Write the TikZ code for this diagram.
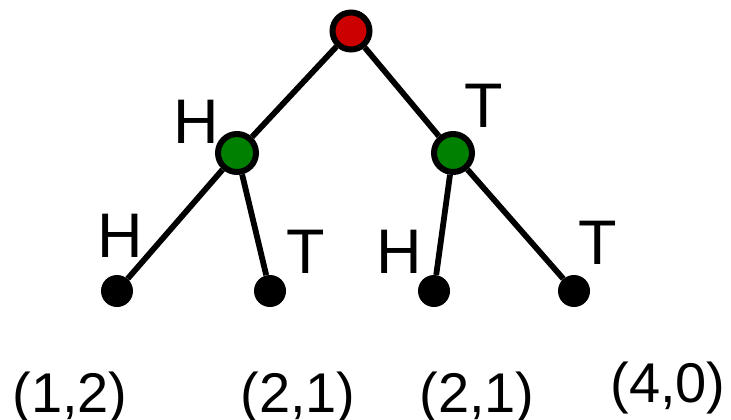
\documentclass[tikz,border=0pt]{standalone}
\usepackage{fontspec}
\setmainfont{Liberation Sans}
\begin{document}
\begin{tikzpicture}[x=1pt,y=-1pt,
  rootnode/.style={circle,draw=black,line width=6pt,fill={rgb,255:red,204;green,0;blue,0},minimum size=37pt,inner sep=0pt},
  midnode/.style={circle,draw=black,line width=6pt,fill={rgb,255:red,0;green,128;blue,0},minimum size=38pt,inner sep=0pt},
  leafnode/.style={circle,fill=black,minimum size=32pt,inner sep=0pt},
  edge/.style={line width=5.8pt},
  lbl/.style={anchor=base,inner sep=0pt,font=\fontsize{63}{63}\selectfont},
  pay/.style={anchor=base,inner sep=0pt,font=\fontsize{56}{56}\selectfont}]
\useasboundingbox (0,0) rectangle (731,420);
\node[rootnode] (r) at (351,31) {};
\node[midnode] (a) at (237,153) {};
\node[midnode] (b) at (453,153) {};
\node[leafnode] (l1) at (117,291) {};
\node[leafnode] (l2) at (270,291) {};
\node[leafnode] (l3) at (434,291) {};
\node[leafnode] (l4) at (574,291) {};
\draw[edge] (r) -- (a);
\draw[edge] (r) -- (b);
\draw[edge] (a) -- (l1);
\draw[edge] (a) -- (l2);
\draw[edge] (b) -- (l3);
\draw[edge] (b) -- (l4);
\node[lbl] (h1) at (196,143) {H};
\node[lbl] (t1) at (484,127) {T};
\node[lbl] (h2) at (120,257) {H};
\node[lbl] (t2) at (306,273) {T};
\node[lbl] (h3) at (399,273) {H};
\node[lbl] (t3) at (598,264) {T};
\node[pay] (p1) at (70,412) {(1,2)};
\node[pay] (p2) at (298,412) {(2,1)};
\node[pay] (p3) at (477,412) {(2,1)};
\node[pay] (p4) at (668,402) {(4,0)};
\end{tikzpicture}
\end{document}
